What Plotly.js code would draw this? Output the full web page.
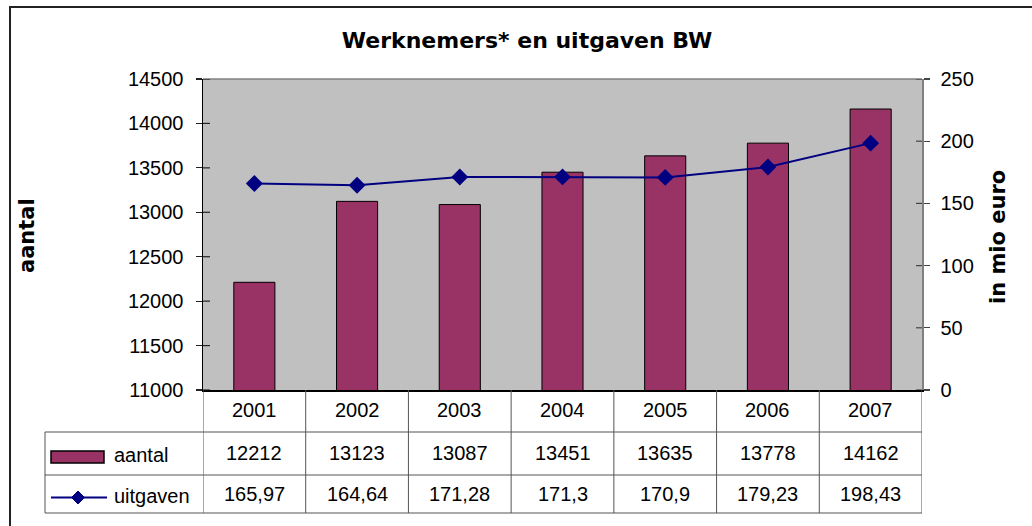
<!DOCTYPE html>
<html>
<head>
<meta charset="utf-8">
<script src="https://cdn.plot.ly/plotly-3.0.1.min.js"></script>
<style>html,body{margin:0;padding:0;background:#fff;}#chart{width:1032px;height:526px;}</style>
</head>
<body>
<div id="chart"></div>
<script>
// ---- data ----
const years = ['2001', '2002', '2003', '2004', '2005', '2006', '2007'];
const aantal = [12212, 13123, 13087, 13451, 13635, 13778, 14162];
const uitgaven = [165.97, 164.64, 171.28, 171.3, 170.9, 179.23, 198.43];
const leftTicks = [11000, 11500, 12000, 12500, 13000, 13500, 14000, 14500];
const rightTicks = [0, 50, 100, 150, 200, 250];
const seriesNames = ['aantal', 'uitgaven'];
const chartTitle = 'Werknemers* en uitgaven BW';
const leftTitle = 'aantal';
const rightTitle = 'in mio euro';

// ---- geometry helpers (pixel -> paper) ----
const W = 1032, H = 526, ML = 203, MR = 110, MT = 79, MB = 136;
const PW = W - ML - MR, PH = H - MT - MB;
const px = v => (v - ML) / PW;
const py = v => (H - MB - v) / PH;

const regFont = 'Liberation Sans, Arial, sans-serif';
const boldFont = 'DejaVu Sans, Liberation Sans, Arial, sans-serif';
const gridCol = '#555555';

const traces = [
  {
    type: 'bar', name: seriesNames[0], x: years, y: aantal, width: 0.4,
    marker: {color: '#993366', line: {color: '#000000', width: 1}},
    hoverinfo: 'x+y'
  },
  {
    type: 'scatter', mode: 'lines+markers', name: seriesNames[1], x: years, y: uitgaven, yaxis: 'y2',
    line: {color: '#000080', width: 2},
    marker: {symbol: 'diamond', size: 13, color: '#000080'}
  }
];

const shapes = [];
const annotations = [];

// outer chart border (left + top visible)
shapes.push({type: 'rect', xref: 'paper', yref: 'paper', x0: px(10), x1: px(1040), y0: py(7), y1: py(540),
  line: {color: '#222222', width: 2}, fillcolor: 'rgba(0,0,0,0)', layer: 'below'});
// plot area top border
shapes.push({type: 'line', xref: 'paper', yref: 'paper', x0: 0, x1: 1, y0: 1, y1: 1, line: {color: '#808080', width: 1.5}});

// inner halves of crossing ticks
leftTicks.forEach(t => shapes.push({type: 'line', xref: 'paper', yref: 'y', x0: 0, x1: px(ML + 7), y0: t, y1: t, line: {color: '#222', width: 1.2}}));
rightTicks.forEach(t => shapes.push({type: 'line', xref: 'paper', yref: 'y2', x0: px(W - MR - 6), x1: 1, y0: t, y1: t, line: {color: '#444', width: 1.2}}));

// data table grid
const rowTop = py(432), rowMid = py(475), rowBot = py(513), tableLeft = px(45);
for (let i = 0; i <= years.length; i++) {
  shapes.push({type: 'line', xref: 'x', yref: 'paper', x0: i - 0.5, x1: i - 0.5, y0: 0, y1: rowBot, line: {color: gridCol, width: 1}});
}
[rowTop, rowMid, rowBot].forEach(y => shapes.push({type: 'line', xref: 'paper', yref: 'paper', x0: tableLeft, x1: 1, y0: y, y1: y, line: {color: gridCol, width: 1}}));
shapes.push({type: 'line', xref: 'paper', yref: 'paper', x0: tableLeft, x1: tableLeft, y0: rowTop, y1: rowBot, line: {color: gridCol, width: 1}});

// legend keys inside table
shapes.push({type: 'rect', xref: 'paper', yref: 'paper', x0: px(51), x1: px(104), y0: py(451), y1: py(463),
  fillcolor: '#993366', line: {color: '#000000', width: 1.5}});
shapes.push({type: 'line', xref: 'paper', yref: 'paper', x0: px(51), x1: px(107), y0: py(497.5), y1: py(497.5), line: {color: '#000080', width: 2}});
(function () {
  const cx = px(78), cy = py(497.5), dx = 6.5 / PW, dy = 6.5 / PH;
  shapes.push({type: 'path', xref: 'paper', yref: 'paper',
    path: `M ${cx - dx},${cy} L ${cx},${cy + dy} L ${cx + dx},${cy} L ${cx},${cy - dy} Z`,
    fillcolor: '#000080', line: {color: '#000080', width: 1}});
})();

// table texts (x = category index on the category axis)
const tf = {family: regFont, size: 20, color: '#000'};
years.forEach((yr, i) => {
  annotations.push({xref: 'x', yref: 'paper', x: i, y: py(410), text: yr, showarrow: false, font: tf, xanchor: 'center', yanchor: 'middle'});
  annotations.push({xref: 'x', yref: 'paper', x: i, y: py(453), text: String(aantal[i]), showarrow: false, font: tf, xanchor: 'center', yanchor: 'middle'});
  annotations.push({xref: 'x', yref: 'paper', x: i, y: py(494), text: String(uitgaven[i]).replace('.', ','), showarrow: false, font: tf, xanchor: 'center', yanchor: 'middle'});
});
annotations.push({xref: 'paper', yref: 'paper', x: px(112), y: py(455), text: seriesNames[0], showarrow: false, font: tf, xanchor: 'left', yanchor: 'middle'});
annotations.push({xref: 'paper', yref: 'paper', x: px(112), y: py(496), text: seriesNames[1], showarrow: false, font: tf, xanchor: 'left', yanchor: 'middle'});

// axis titles
const af = {family: boldFont, size: 21, color: '#000'};
annotations.push({xref: 'paper', yref: 'paper', x: px(27), y: py(236), text: '<b>' + leftTitle + '</b>', textangle: -90, showarrow: false, font: af, xanchor: 'center', yanchor: 'middle'});
annotations.push({xref: 'paper', yref: 'paper', x: px(998), y: py(237), text: '<b>' + rightTitle + '</b>', textangle: -90, showarrow: false, font: af, xanchor: 'center', yanchor: 'middle'});

const layout = {
  width: W, height: H,
  margin: {l: ML, r: MR, t: MT, b: MB, pad: 0},
  paper_bgcolor: '#ffffff',
  plot_bgcolor: '#C0C0C0',
  showlegend: false,
  title: {text: '<b>' + chartTitle + '</b>', x: 527 / W, xref: 'container', xanchor: 'center', y: 1 - 40 / H, yref: 'container', yanchor: 'middle',
    font: {family: boldFont, size: 22, color: '#000'}},
  xaxis: {type: 'category', range: [-0.5, 6.5], showticklabels: false, ticks: '', showgrid: false, zeroline: false,
    showline: true, linecolor: '#000', linewidth: 1.5, fixedrange: true},
  yaxis: {range: [11000, 14500], tickvals: leftTicks, ticktext: leftTicks.map(String), ticks: 'outside', ticklen: 6, tickcolor: '#222', tickwidth: 1.2,
    showgrid: false, zeroline: false, showline: true, linecolor: '#000', linewidth: 1.5,
    tickfont: {family: regFont, size: 20, color: '#000'}, ticklabelstandoff: 8},
  yaxis2: {overlaying: 'y', side: 'right', range: [0, 250], tickvals: rightTicks, ticktext: rightTicks.map(String), ticks: 'outside', ticklen: 6, tickcolor: '#444', tickwidth: 1.2,
    showgrid: false, zeroline: false, showline: true, linecolor: '#808080', linewidth: 1.5,
    tickfont: {family: regFont, size: 20, color: '#000'}, ticklabelstandoff: 7},
  shapes: shapes,
  annotations: annotations
};

Plotly.newPlot('chart', traces, layout, {displayModeBar: false, staticPlot: true});
</script>
</body>
</html>
